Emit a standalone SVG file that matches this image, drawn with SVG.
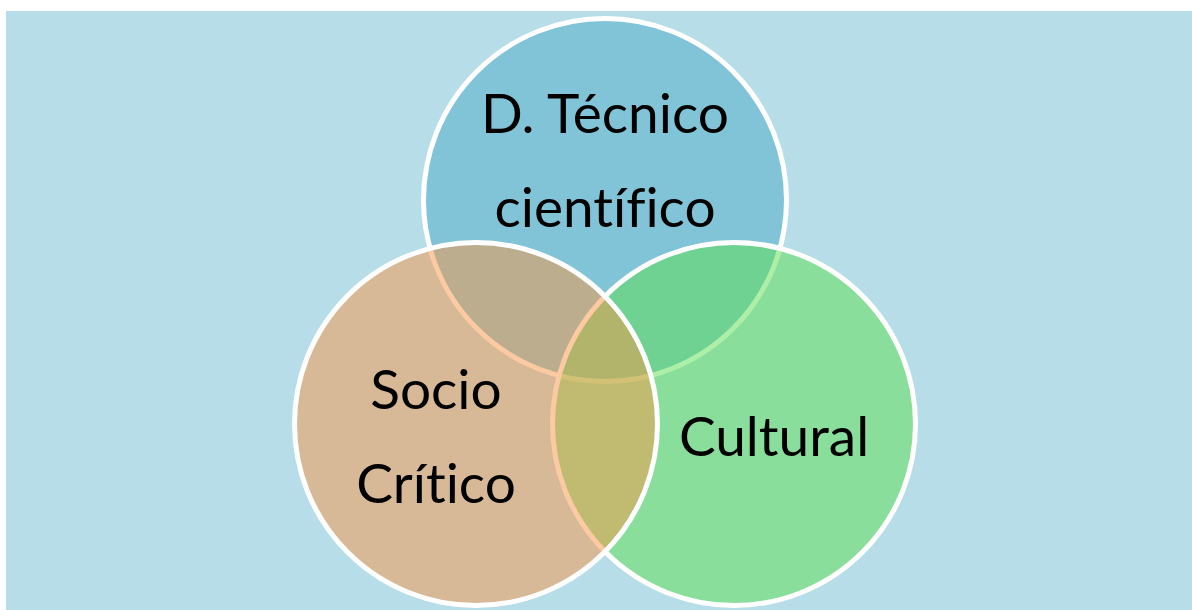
<svg xmlns="http://www.w3.org/2000/svg" width="1192" height="610" viewBox="0 0 1192 610">
  <style>
    .c { stroke: #FFFFFF; stroke-width: 5; fill-opacity: 0.5; }
    .t { font-family: Lato, "Open Sans", "Liberation Sans", sans-serif; font-size: 55px; fill: #000000; text-anchor: middle; font-variant-ligatures: none; font-feature-settings: "liga" 0, "dlig" 0; }
  </style>
  <rect x="0" y="0" width="1192" height="610" fill="#FFFFFF"/>
  <rect x="6" y="11" width="1186" height="599" fill="#B7DDE8"/>
  <g id="node-tecnico">
    <circle class="c" cx="605" cy="200" r="181.5" fill="#4BACC6"/>
  </g>
  <g id="node-cultural">
    <circle class="c" cx="734" cy="424" r="181.5" fill="#5EE050"/>
  </g>
  <g id="node-socio">
    <circle class="c" cx="476" cy="424" r="181.5" fill="#F79646"/>
  </g>
  <g id="labels">
    <text class="t" x="605" y="133">D. Técnico</text>
    <text class="t" x="605" y="227">científico</text>
    <text class="t" x="436" y="409">Socio</text>
    <text class="t" x="436" y="503">Crítico</text>
    <text class="t" x="774" y="456">Cultural</text>
  </g>
  <g id="connectors"></g>
</svg>
